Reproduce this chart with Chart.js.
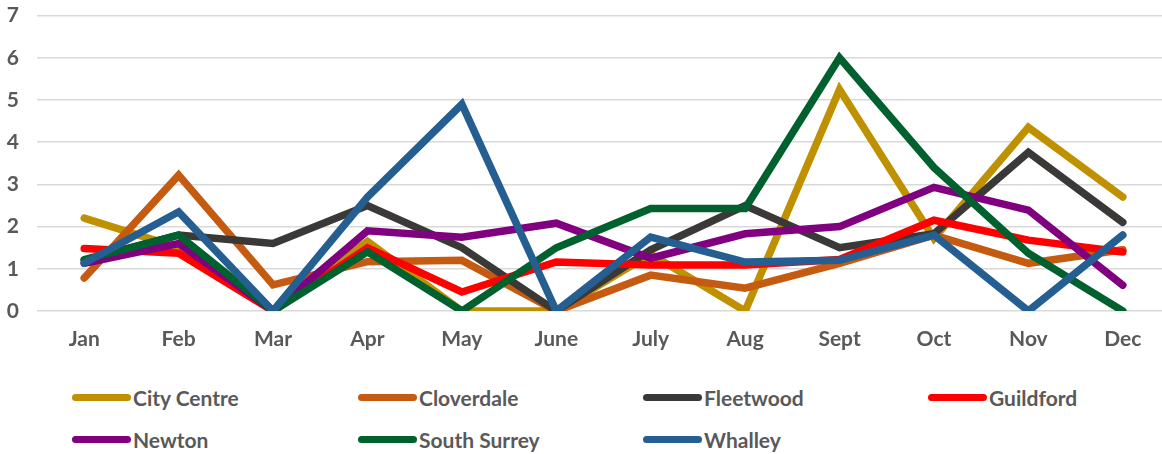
<!DOCTYPE html>
<html>
<head>
<meta charset="utf-8">
<script src="https://cdn.jsdelivr.net/npm/chart.js@4"></script>
<style>
    html, body { margin: 0; padding: 0; background: #fff; overflow: hidden; }
    #wrap { position: relative; width: 1162px; height: 454px; overflow: hidden; }
    #holder { position: absolute; left: 0; top: -15px; width: 1170px; height: 375px; }
    .item { position: absolute; display: flex; align-items: center; font: bold 21px Lato, sans-serif; color: #595959; white-space: nowrap; }
    .swatch { width: 59px; height: 7px; border-radius: 4px; margin-right: 2px; }
</style>
</head>
<body>
<div id="wrap">
    <div id="holder"><canvas id="chart"></canvas></div>
    <div id="legend"></div>
</div>
<script>
/* --------------------------
   DATA
-------------------------- */
const months = ["Jan", "Feb", "Mar", "Apr", "May", "June", "July", "Aug", "Sept", "Oct", "Nov", "Dec"];

const cityCentre  = [2.2, 1.5, 0, 1.65, 0, 0, 1.35, 0, 5.25, 1.72, 4.35, 2.7];
const cloverdale  = [0.78, 3.22, 0.62, 1.17, 1.2, 0, 0.85, 0.54, 1.13, 1.8, 1.13, 1.45];
const fleetwood   = [1.2, 1.8, 1.6, 2.5, 1.5, 0, 1.45, 2.5, 1.5, 1.83, 3.76, 2.1];
const guildford   = [1.48, 1.37, 0, 1.5, 0.45, 1.16, 1.09, 1.09, 1.22, 2.15, 1.68, 1.4];
const newton      = [1.13, 1.6, 0, 1.9, 1.75, 2.08, 1.25, 1.83, 2.0, 2.93, 2.39, 0.61];
const southSurrey = [1.22, 1.8, 0, 1.4, 0, 1.5, 2.43, 2.43, 6.0, 3.4, 1.37, 0];
const whalley     = [1.13, 2.35, 0, 2.7, 4.9, 0, 1.75, 1.16, 1.2, 1.8, 0, 1.8];

const seriesNames  = ["City Centre", "Cloverdale", "Fleetwood", "Guildford", "Newton", "South Surrey", "Whalley"];
const seriesValues = [cityCentre, cloverdale, fleetwood, guildford, newton, southSurrey, whalley];
const seriesColors = ["#BF9000", "#C55A11", "#3B3838", "#FF0000", "#800080", "#00612F", "#255E91"];

const yTicks = [0, 1, 2, 3, 4, 5, 6, 7];

const textColor = "#595959";
const font = { family: "Lato, sans-serif", size: 21, weight: "bold" };

/* --------------------------
   CHART
-------------------------- */
const datasets = seriesNames.map((name, i) => ({
    label: name,
    data: seriesValues[i],
    borderColor: seriesColors[i],
    backgroundColor: seriesColors[i],
    borderWidth: 7.5,
    borderCapStyle: "round",
    borderJoinStyle: "miter",
    pointRadius: 0,
    tension: 0,
    order: seriesNames.length - i
}));

new Chart(document.getElementById("chart"), {
    type: "line",
    data: { labels: months, datasets },
    options: {
        responsive: true,
        maintainAspectRatio: false,
        animation: false,
        layout: { padding: 0 },
        plugins: {
            legend: { display: false },
            tooltip: { enabled: false }
        },
        scales: {
            x: {
                offset: true,
                grid: { display: false, drawTicks: false },
                border: { display: false },
                ticks: { color: textColor, font, padding: 16, maxRotation: 0, autoSkip: false },
                afterFit: scale => { scale.height = 49; }
            },
            y: {
                min: 0,
                max: 7,
                afterBuildTicks: scale => { scale.ticks = yTicks.map(v => ({ value: v })); },
                grid: { color: "#D9D9D9", lineWidth: 1.5, drawTicks: false },
                border: { display: false },
                ticks: { color: textColor, font, padding: 18 },
                afterFit: scale => { scale.width = 37; }
            }
        }
    }
});

/* --------------------------
   LEGEND
-------------------------- */
const legendCols = [72, 358, 643, 928];
const legendRows = [397, 439];
const legend = document.getElementById("legend");

seriesNames.forEach((name, i) => {
    const item = document.createElement("div");
    item.className = "item";
    item.style.left = legendCols[i % 4] + "px";
    item.style.top = (legendRows[Math.floor(i / 4)] - 14) + "px";
    item.style.height = "28px";
    const sw = document.createElement("span");
    sw.className = "swatch";
    sw.style.background = seriesColors[i];
    const txt = document.createElement("span");
    txt.textContent = name;
    item.appendChild(sw);
    item.appendChild(txt);
    legend.appendChild(item);
});
</script>
</body>
</html>
